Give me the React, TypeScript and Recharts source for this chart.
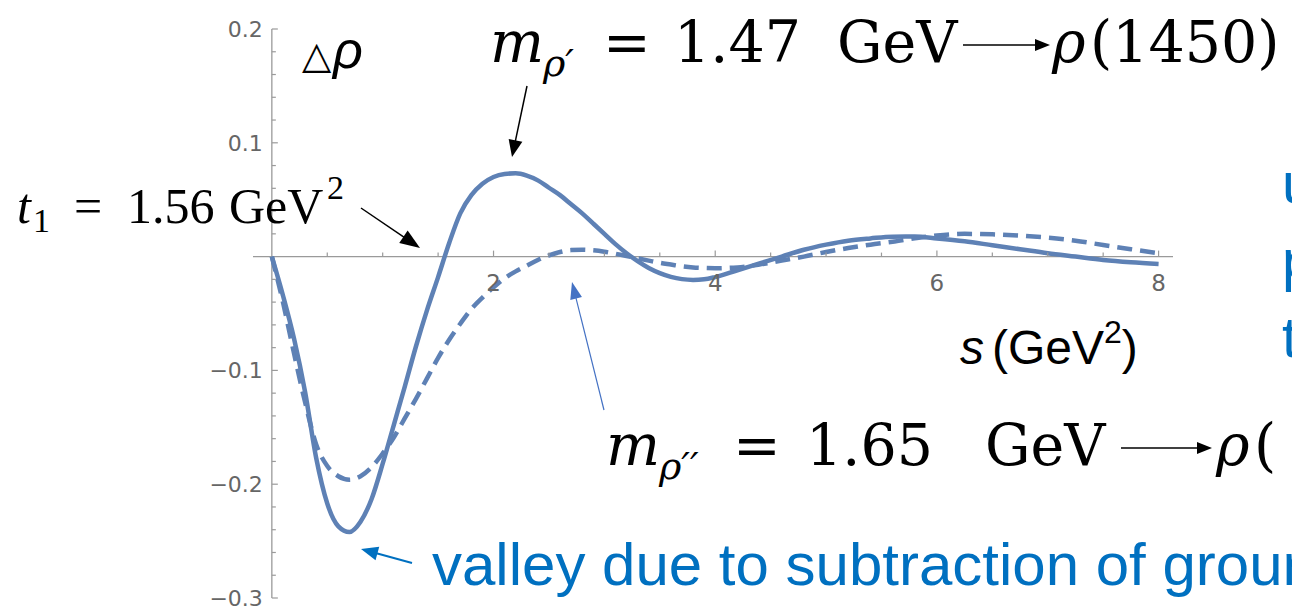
import { LineChart, Line, XAxis, YAxis, ReferenceLine, ReferenceDot } from 'recharts'

// s grid (GeV^2) shared by both curves
const sGrid = [
  0, 0.1, 0.2, 0.3, 0.4, 0.5, 0.6, 0.7, 0.8, 0.9,
  1.0, 1.1, 1.2, 1.3, 1.4, 1.5, 1.6, 1.7, 1.8, 1.9,
  2.0, 2.1, 2.2, 2.3, 2.4, 2.5, 2.6, 2.7, 2.8, 2.9,
  3.0, 3.1, 3.2, 3.3, 3.4, 3.5, 3.6, 3.7, 3.8, 3.9,
  4.0, 4.2, 4.4, 4.6, 4.8, 5.0, 5.2, 5.4, 5.6, 5.8,
  6.0, 6.25, 6.5, 6.75, 7.0, 7.25, 7.5, 7.75, 8.0,
]

// Δρ, solid curve
const deltaRhoSolid = [
  0, -0.034, -0.072, -0.119, -0.177, -0.217, -0.237, -0.242, -0.233, -0.213,
  -0.182, -0.148, -0.114, -0.079, -0.047, -0.018, 0.012, 0.038, 0.054, 0.064,
  0.07, 0.0726, 0.0732, 0.0712, 0.067, 0.0605, 0.054, 0.046, 0.038, 0.029,
  0.02, 0.011, 0.003, -0.004, -0.01, -0.0145, -0.0178, -0.0198, -0.0205, -0.02,
  -0.018, -0.012, -0.006, 0.0, 0.006, 0.0105, 0.014, 0.016, 0.0175, 0.0176,
  0.016, 0.0135, 0.01, 0.0065, 0.003, 0.0, -0.003, -0.005, -0.0064,
]

// Δρ, dashed curve
const deltaRhoDashed = [
  0, -0.04, -0.085, -0.128, -0.165, -0.184, -0.193, -0.196, -0.193, -0.185,
  -0.173, -0.159, -0.142, -0.125, -0.107, -0.089, -0.073, -0.059, -0.046, -0.036,
  -0.027, -0.019, -0.013, -0.008, -0.003, 0.001, 0.004, 0.0057, 0.006, 0.0055,
  0.0043, 0.0025, 0.0005, -0.0015, -0.0035, -0.0055, -0.007, -0.0085, -0.0095, -0.01,
  -0.0102, -0.0095, -0.007, -0.0035, 0.0, 0.004, 0.0075, 0.0105, 0.013, 0.016,
  0.0185, 0.02, 0.0196, 0.0185, 0.0167, 0.014, 0.0102, 0.0065, 0.003,
]

const xMajorTicks = [2, 4, 6, 8]
const xMinorTicks = [0.5, 1, 1.5, 2.5, 3, 3.5, 4.5, 5, 5.5, 6.5, 7, 7.5]
const yMajorTicks = [0.2, 0.1, -0.1, -0.2, -0.3]
const yMajorLabels = ['0.2', '0.1', '\u22120.1', '\u22120.2', '\u22120.3']
const yMinorTicks = [
  0.18, 0.16, 0.14, 0.12, 0.08, 0.06, 0.04, 0.02,
  -0.02, -0.04, -0.06, -0.08, -0.12, -0.14, -0.16, -0.18,
  -0.22, -0.24, -0.26, -0.28,
]

const data = sGrid.map((s, i) => ({ s, solid: deltaRhoSolid[i], dashed: deltaRhoDashed[i] }))

const CURVE = '#5E81B5'
const AXIS = '#9a9a9a'
const TICK_TEXT = '#666666'
const BLUE = '#0070C0'
const SERIF = '"Liberation Serif", serif'
const WIDE_SERIF = '"DejaVu Serif", serif'
const SANS = '"Liberation Sans", Arial, sans-serif'

const xTick = (label: string | null) => (p: any) => (
  <g>
    <line x1={p.cx} y1={p.cy} x2={p.cx} y2={p.cy - (label ? 6 : 4)} stroke={AXIS} strokeWidth={1.2} />
    {label ? (
      <text x={p.cx} y={p.cy + 34} textAnchor="middle" fontFamily='"DejaVu Sans", sans-serif' fontSize={23} fill={TICK_TEXT}>
        {label}
      </text>
    ) : null}
  </g>
)

const yTick = (label: string | null) => (p: any) => (
  <g>
    <line x1={p.cx} y1={p.cy} x2={p.cx + (label ? 6 : 4)} y2={p.cy} stroke={AXIS} strokeWidth={1.2} />
    {label ? (
      <text x={p.cx - 9} y={p.cy + 8} textAnchor="end" fontFamily='"DejaVu Sans", sans-serif' fontSize={22} fill={TICK_TEXT}>
        {label}
      </text>
    ) : null}
  </g>
)

function Arrow({ x1, y1, x2, y2, color, width, head, headW }: {
  x1: number; y1: number; x2: number; y2: number; color: string; width: number; head: number; headW: number
}) {
  const dx = x2 - x1
  const dy = y2 - y1
  const len = Math.hypot(dx, dy)
  const ux = dx / len
  const uy = dy / len
  const bx = x2 - ux * head
  const by = y2 - uy * head
  const pts = [
    [x2, y2],
    [bx - uy * headW / 2, by + ux * headW / 2],
    [bx + uy * headW / 2, by - ux * headW / 2],
  ].map((q) => q.join(',')).join(' ')
  return (
    <g>
      <line x1={x1} y1={y1} x2={bx + ux} y2={by + uy} stroke={color} strokeWidth={width} />
      <polygon points={pts} fill={color} />
    </g>
  )
}

function Annotations() {
  return (
    <svg width={1292} height={610} style={{ position: 'absolute', left: 0, top: 0, pointerEvents: 'none' }}>
      {/* Δρ axis label */}
      <text x={302} y={68} fontFamily='"DejaVu Sans", sans-serif' fontSize={38} fill="#000">{'\u25B3'}</text>
      <text x={333} y={68} fontFamily={SANS} fontStyle="italic" fontSize={52} fill="#000">ρ</text>

      {/* s (GeV^2) axis label */}
      <text x={960} y={364} fontFamily={SANS} fontSize={48} fill="#000">
        <tspan fontStyle="italic">s</tspan>
        <tspan dx={8}>(GeV</tspan>
        <tspan dy={-21} fontSize={32}>2</tspan>
        <tspan dy={21}>)</tspan>
      </text>

      {/* t1 label */}
      <text y={223} fontFamily={SERIF} fontSize={50} fill="#000">
        <tspan x={17} fontStyle="italic">t</tspan>
        <tspan x={33} dy={9} fontSize={34}>1</tspan>
        <tspan x={74} dy={-9}>=</tspan>
        <tspan x={127}>1.56</tspan>
        <tspan x={229}>GeV</tspan>
        <tspan x={327} dy={-24} fontSize={34}>2</tspan>
      </text>
      <Arrow x1={361} y1={208} x2={420} y2={248} color="#000" width={1.5} head={20} headW={15} />

      {/* m_rho' label */}
      <text y={62} fontFamily={WIDE_SERIF} fontSize={57} fill="#000">
        <tspan x={490} fontStyle="italic">m</tspan>
        <tspan x={543} dy={14} fontSize={38} fontStyle="italic">ρ′</tspan>
        <tspan x={603} dy={-14}>=</tspan>
        <tspan x={674}>1.47</tspan>
        <tspan x={837}>GeV</tspan>
        <tspan x={1052} fontStyle="italic">ρ</tspan>
        <tspan x={1090}>(1450)</tspan>
      </text>
      <Arrow x1={963} y1={45} x2={1050} y2={45} color="#000" width={1.5} head={15} headW={12} />
      <Arrow x1={527} y1={86} x2={512} y2={157} color="#000" width={1.5} head={17} headW={14} />

      {/* m_rho'' label */}
      <text y={465} fontFamily={WIDE_SERIF} fontSize={57} fill="#000">
        <tspan x={606} fontStyle="italic">m</tspan>
        <tspan x={659} dy={14} fontSize={38} fontStyle="italic">ρ′′</tspan>
        <tspan x={733} dy={-14}>=</tspan>
        <tspan x={806}>1.65</tspan>
        <tspan x={985}>GeV</tspan>
        <tspan x={1216} fontStyle="italic">ρ</tspan>
        <tspan x={1254}>(</tspan>
      </text>
      <Arrow x1={1121} y1={448} x2={1212} y2={448} color="#000" width={1.5} head={15} headW={12} />
      <Arrow x1={604} y1={410} x2={572} y2={282} color="#4472C4" width={1.2} head={17} headW={12} />

      {/* valley note */}
      <text x={432} y={585} fontFamily={SANS} fontSize={60} fill={BLUE}>valley due to subtraction of ground</text>
      <Arrow x1={412} y1={563} x2={361} y2={549} color={BLUE} width={2} head={17} headW={14} />

      {/* right margin note */}
      <text x={1282} y={203} fontFamily={SANS} fontSize={58} fill={BLUE}>u</text>
      <text x={1282} y={280} fontFamily={SANS} fontSize={58} fill={BLUE}>p</text>
      <text x={1282} y={357} fontFamily={SANS} fontSize={58} fill={BLUE}>t</text>
    </svg>
  )
}

export default function App() {
  return (
    <div style={{ position: 'absolute', left: 0, top: 0, width: 1292, height: 610, overflow: 'hidden', background: '#fff' }}>
      <LineChart width={1292} height={610} data={data} margin={{ top: 29, right: 119, bottom: 12, left: 253 }}>
        <XAxis dataKey="s" type="number" domain={[-0.17, 8.13]} hide />
        <YAxis type="number" domain={[-0.3, 0.2]} hide />
        <ReferenceLine y={0} stroke={AXIS} strokeWidth={1.3} />
        <ReferenceLine x={0} stroke={AXIS} strokeWidth={1.3} />
        {xMinorTicks.map((t) => (
          <ReferenceDot key={`xm${t}`} x={t} y={0} r={1} shape={xTick(null)} />
        ))}
        {xMajorTicks.map((t) => (
          <ReferenceDot key={`xM${t}`} x={t} y={0} r={1} shape={xTick(String(t))} />
        ))}
        {yMinorTicks.map((t) => (
          <ReferenceDot key={`ym${t}`} x={0} y={t} r={1} shape={yTick(null)} />
        ))}
        {yMajorTicks.map((t, i) => (
          <ReferenceDot key={`yM${t}`} x={0} y={t} r={1} shape={yTick(yMajorLabels[i])} />
        ))}
        <Line type="monotone" dataKey="dashed" stroke={CURVE} strokeWidth={4.5} strokeDasharray="15 8" dot={false} isAnimationActive={false} />
        <Line type="monotone" dataKey="solid" stroke={CURVE} strokeWidth={4.5} dot={false} isAnimationActive={false} />
      </LineChart>
      <Annotations />
    </div>
  )
}
